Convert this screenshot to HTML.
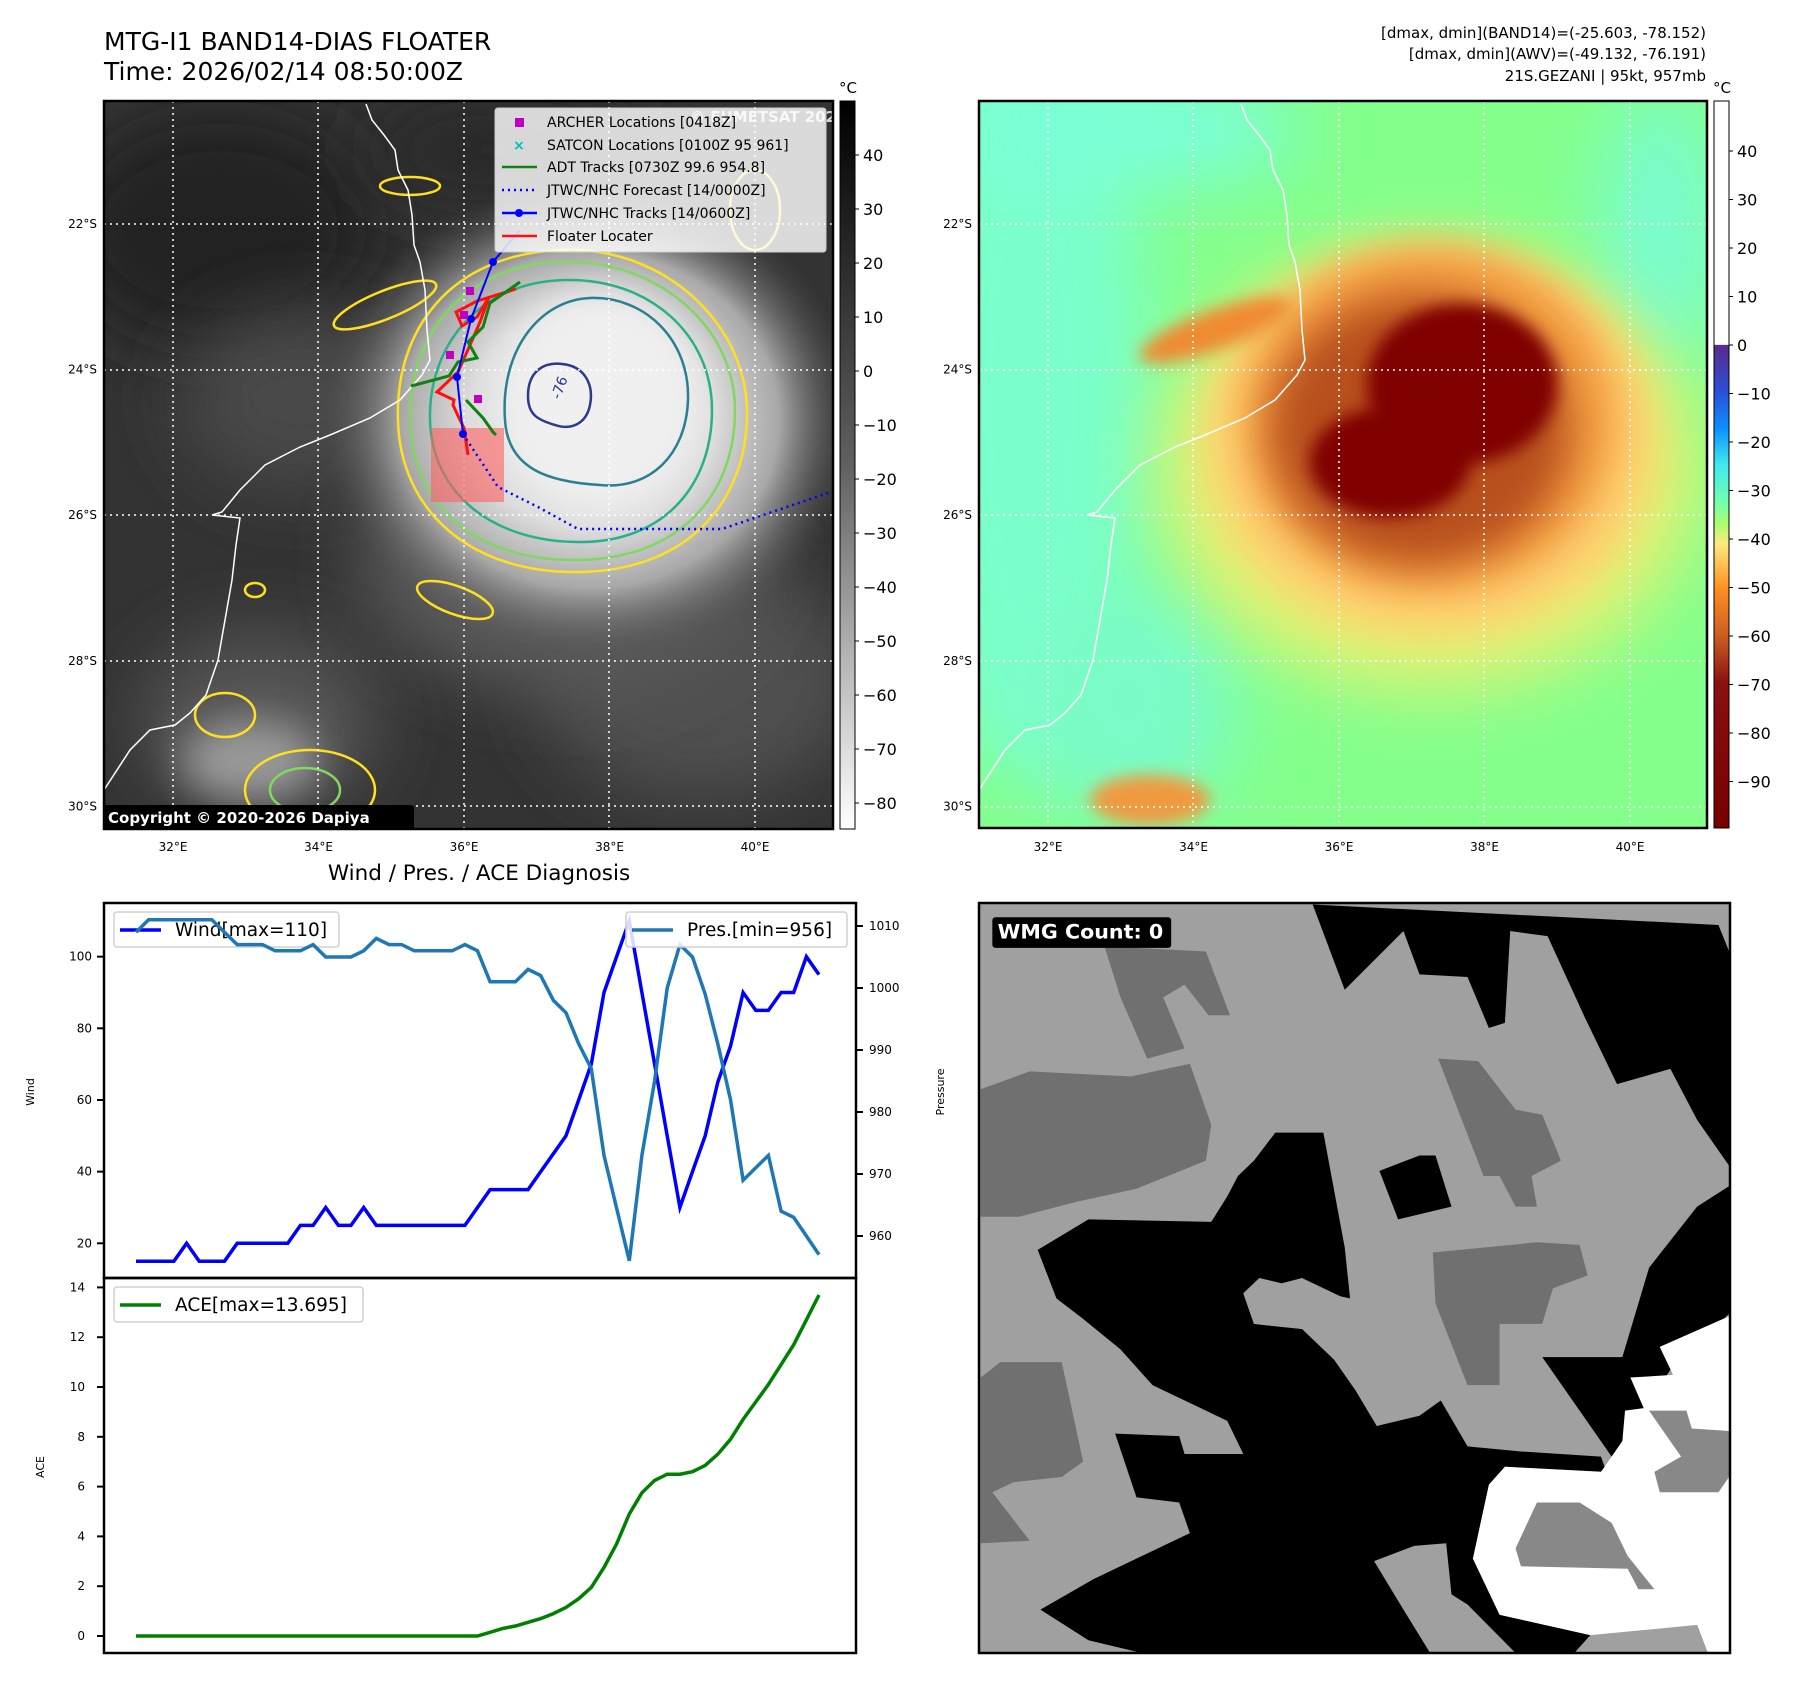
<!DOCTYPE html>
<html><head><meta charset="utf-8">
<style>
html,body{margin:0;padding:0;background:#fff;}
svg{display:block;font-family:"DejaVu Sans","Liberation Sans",sans-serif;}
</style></head>
<body>
<svg id="root" width="1797" height="1690" viewBox="0 0 1797 1690" xmlns="http://www.w3.org/2000/svg">
<defs>
  <filter id="b8" x="-50%" y="-50%" width="200%" height="200%"><feGaussianBlur stdDeviation="8"/></filter>
  <filter id="b20" x="-50%" y="-50%" width="200%" height="200%"><feGaussianBlur stdDeviation="20"/></filter>
  <filter id="b35" x="-50%" y="-50%" width="200%" height="200%"><feGaussianBlur stdDeviation="35"/></filter>
  <clipPath id="clipTL"><rect x="104" y="101" width="729" height="728"/></clipPath>
  <clipPath id="clipTR"><rect x="979" y="101" width="728" height="727"/></clipPath>
  <clipPath id="clipBR"><rect x="979" y="903" width="751" height="750"/></clipPath>
  <linearGradient id="grayBar" x1="0" y1="0" x2="0" y2="1">
    <stop offset="0" stop-color="#000"/><stop offset="0.5" stop-color="#606060"/><stop offset="1" stop-color="#fff"/>
  </linearGradient>
  <linearGradient id="colBar" x1="0" y1="0" x2="0" y2="1">
    <stop offset="0" stop-color="#fff"/><stop offset="0.335" stop-color="#fff"/>
    <stop offset="0.336" stop-color="#5b2b8c"/><stop offset="0.40" stop-color="#2a50d8"/>
    <stop offset="0.45" stop-color="#0a90ff"/><stop offset="0.50" stop-color="#40e8f0"/>
    <stop offset="0.55" stop-color="#70ffb0"/><stop offset="0.58" stop-color="#a8ff70"/>
    <stop offset="0.61" stop-color="#ffe880"/><stop offset="0.67" stop-color="#ff9020"/>
    <stop offset="0.74" stop-color="#c85a20"/><stop offset="0.80" stop-color="#8b1010"/>
    <stop offset="1" stop-color="#780000"/>
  </linearGradient>
  <radialGradient id="stormGray" cx="0.5" cy="0.5" r="0.5">
    <stop offset="0" stop-color="#f4f4f4"/><stop offset="0.45" stop-color="#dcdcdc"/>
    <stop offset="0.7" stop-color="#a8a8a8"/><stop offset="1" stop-color="#505050" stop-opacity="0"/>
  </radialGradient>
</defs>

<!-- titles -->
<text x="104" y="50" font-size="25">MTG-I1 BAND14-DIAS FLOATER</text>
<text x="104" y="80" font-size="25">Time: 2026/02/14 08:50:00Z</text>
<g font-size="15" text-anchor="end">
  <text x="1706" y="38">[dmax, dmin](BAND14)=(-25.603, -78.152)</text>
  <text x="1706" y="59">[dmax, dmin](AWV)=(-49.132, -76.191)</text>
  <text x="1706" y="81">21S.GEZANI | 95kt, 957mb</text>
</g>

<!-- ============ TOP-LEFT MAP ============ -->
<g clip-path="url(#clipTL)">
  <rect x="104" y="101" width="729" height="728" fill="#333"/>
  <ellipse cx="220" cy="230" rx="160" ry="120" fill="#242424" filter="url(#b35)"/>
  <ellipse cx="500" cy="150" rx="140" ry="60" fill="#2a2a2a" filter="url(#b35)"/>
  <ellipse cx="300" cy="400" rx="120" ry="90" fill="#484848" filter="url(#b35)"/>
  <ellipse cx="700" cy="680" rx="160" ry="120" fill="#505050" filter="url(#b35)"/>
  <ellipse cx="260" cy="720" rx="120" ry="90" fill="#555" filter="url(#b35)"/>
  <ellipse cx="560" cy="560" rx="200" ry="130" fill="#5a5a5a" filter="url(#b35)"/>
  <ellipse cx="590" cy="420" rx="270" ry="240" fill="url(#stormGray)"/>
  <ellipse cx="600" cy="400" rx="100" ry="110" fill="#f0f0f0" filter="url(#b20)"/>
  <ellipse cx="250" cy="760" rx="70" ry="40" fill="#9a9a9a" filter="url(#b20)"/>
  <!-- contours -->
  <g fill="none" stroke-width="2.5">
    <path d="M398,420 C395,330 450,255 560,250 C660,245 745,320 747,410 C748,500 690,570 580,572 C470,574 400,510 398,420 Z" stroke="#ffe020"/>
    <path d="M410,420 C408,340 460,265 560,262 C655,258 735,325 735,410 C735,495 680,558 580,560 C475,562 412,505 410,420 Z" stroke="#80d860"/>
    <path d="M430,420 C428,350 475,282 565,280 C650,278 712,335 712,410 C712,485 665,540 585,542 C495,544 432,495 430,420 Z" stroke="#28b088"/>
    <path d="M505,420 C500,350 540,300 590,298 C645,296 690,340 688,400 C686,455 650,490 600,485 C550,482 508,470 505,420 Z" stroke="#2a7f92"/>
    <path d="M528,396 C528,370 545,362 562,364 C585,366 594,385 590,405 C586,425 570,430 555,425 C538,420 528,415 528,396 Z" stroke="#2b3a8a"/>
    <ellipse cx="385" cy="305" rx="55" ry="14" transform="rotate(-22 385 305)" stroke="#ffe020"/>
    <ellipse cx="410" cy="186" rx="30" ry="9" stroke="#ffe020"/>
    <ellipse cx="455" cy="600" rx="40" ry="14" transform="rotate(20 455 600)" stroke="#ffe020"/>
    <ellipse cx="225" cy="715" rx="30" ry="22" stroke="#ffe020"/>
    <ellipse cx="310" cy="790" rx="65" ry="40" stroke="#ffe020"/>
    <ellipse cx="305" cy="790" rx="35" ry="22" stroke="#80d860"/>
    <ellipse cx="255" cy="590" rx="10" ry="7" stroke="#ffe020"/>
    <ellipse cx="755" cy="210" rx="25" ry="40" stroke="#ffe020"/>
  </g>
  <text x="560" y="400" font-size="14" fill="#2b3a8a" transform="rotate(-70 560 400)">-76</text>
  <!-- coastline -->
  <path d="M366,104 L372,120 L384,135 L395,150 L398,170 L408,190 L412,215 L414,245 L420,262 L425,290 L427,330 L430,360 L422,375 L400,400 L370,418 L330,435 L300,447 L265,465 L240,490 L222,512 L212,515 L240,518 L236,545 L232,580 L225,620 L218,660 L206,695 L190,713 L175,725 L150,730 L130,750 L104,790" fill="none" stroke="#fff" stroke-width="1.5"/>
  <!-- gridlines -->
  <g stroke="#fff" stroke-width="1.5" stroke-dasharray="2,4">
    <line x1="173" y1="101" x2="173" y2="829"/><line x1="318" y1="101" x2="318" y2="829"/><line x1="464" y1="101" x2="464" y2="829"/><line x1="609" y1="101" x2="609" y2="829"/><line x1="755" y1="101" x2="755" y2="829"/>
    <line x1="104" y1="224" x2="833" y2="224"/><line x1="104" y1="370" x2="833" y2="370"/><line x1="104" y1="515" x2="833" y2="515"/><line x1="104" y1="661" x2="833" y2="661"/><line x1="104" y1="806" x2="833" y2="806"/>
  </g>
  <!-- floater box -->
  <rect x="431" y="428" width="73" height="74" fill="#ff6060" opacity="0.6"/>
  <!-- tracks -->
  <polyline points="516,289 477,301 456,312 462,326 477,317 489,297 480,322 470,345 458,372 437,392 454,400 453,405 460,420 464,428 468,455" fill="none" stroke="#ff1010" stroke-width="3"/>
  <polyline points="411,386 449,376 458,362 477,358 468,342 483,327 490,303 520,282" fill="none" stroke="#108010" stroke-width="3"/>
  <polyline points="466,400 483,418 493,432 496,435" fill="none" stroke="#108010" stroke-width="3"/>
  <polyline points="520,230 493,262 471,319 457,377 463,434" fill="none" stroke="#0000ff" stroke-width="2"/>
  <g fill="#0000ff"><circle cx="493" cy="262" r="4"/><circle cx="471" cy="319" r="4"/><circle cx="457" cy="377" r="4"/><circle cx="463" cy="434" r="4"/></g>
  <polyline points="463,434 498,487 538,507 578,529 722,529 831,492" fill="none" stroke="#0000ff" stroke-width="2.5" stroke-dasharray="2,4"/>
  <g fill="#c000c0"><rect x="446" y="351" width="8" height="8"/><rect x="474" y="395" width="8" height="8"/><rect x="466" y="287" width="8" height="8"/><rect x="460" y="311" width="8" height="8"/></g>
  <!-- legend -->
  <g>
    <rect x="495" y="108" width="331" height="144" rx="3" fill="#fff" fill-opacity="0.82" stroke="#ccc"/>
    <text x="690" y="122" font-size="15" font-weight="bold" fill="#fff" fill-opacity="0.8">© EUMETSAT 2026</text>
    <rect x="515" y="118" width="9" height="9" fill="#c000c0"/>
    <text x="519" y="150" font-size="14" fill="#00c0c0" text-anchor="middle" font-weight="bold">×</text>
    <line x1="502" y1="167" x2="537" y2="167" stroke="#108010" stroke-width="2.5"/>
    <line x1="502" y1="190" x2="537" y2="190" stroke="#0000ff" stroke-width="2.5" stroke-dasharray="2,4"/>
    <line x1="502" y1="213" x2="537" y2="213" stroke="#0000ff" stroke-width="2.5"/><circle cx="519" cy="213" r="4" fill="#0000ff"/>
    <line x1="502" y1="236" x2="537" y2="236" stroke="#ff1010" stroke-width="2.5"/>
    <g font-size="14" fill="#000">
      <text x="547" y="127">ARCHER Locations [0418Z]</text>
      <text x="547" y="150">SATCON Locations [0100Z 95 961]</text>
      <text x="547" y="172">ADT Tracks [0730Z 99.6 954.8]</text>
      <text x="547" y="195">JTWC/NHC Forecast [14/0000Z]</text>
      <text x="547" y="218">JTWC/NHC Tracks [14/0600Z]</text>
      <text x="547" y="241">Floater Locater</text>
    </g>
  </g>
  <rect x="102" y="805" width="312" height="25" rx="3" fill="#000"/>
  <text x="108" y="823" font-size="15" font-weight="bold" fill="#fff">Copyright © 2020-2026 Dapiya</text>
</g>
<rect x="104" y="101" width="729" height="728" fill="none" stroke="#000" stroke-width="2.5"/>

<!-- TL colorbar -->
<g>
  <rect x="840" y="101" width="15" height="728" fill="url(#grayBar)" stroke="#000" stroke-width="1"/>
  <text x="848" y="93" font-size="15" text-anchor="middle">°C</text>
  <g id="tlbar" font-size="16"></g>
</g>

<!-- ============ TOP-RIGHT MAP ============ -->
<g clip-path="url(#clipTR)">
  <rect x="979" y="101" width="728" height="727" fill="#84ff8c"/>
  <ellipse cx="1030" cy="400" rx="120" ry="380" fill="#7affcc" filter="url(#b35)"/>
  <ellipse cx="1120" cy="130" rx="180" ry="60" fill="#7affd8" filter="url(#b35)"/>
  <ellipse cx="1130" cy="700" rx="110" ry="120" fill="#7afcc8" filter="url(#b35)"/>
  <ellipse cx="1660" cy="230" rx="60" ry="140" fill="#7afcd0" filter="url(#b35)"/>
  <ellipse cx="1430" cy="470" rx="270" ry="220" fill="#f0f070" filter="url(#b35)" opacity="0.9"/>
  <ellipse cx="1430" cy="440" rx="225" ry="195" fill="#ffd070" filter="url(#b20)"/>
  <ellipse cx="1430" cy="420" rx="185" ry="170" fill="#f29a40" filter="url(#b20)"/>
  <ellipse cx="1215" cy="330" rx="80" ry="20" transform="rotate(-20 1215 330)" fill="#f08a30" filter="url(#b8)"/>
  <ellipse cx="1150" cy="800" rx="60" ry="25" fill="#f09a40" filter="url(#b8)"/>
  <ellipse cx="1420" cy="430" rx="150" ry="135" fill="#b8501c" filter="url(#b20)"/>
  <ellipse cx="1462" cy="384" rx="95" ry="80" fill="#800000" filter="url(#b8)"/>
  <ellipse cx="1390" cy="462" rx="80" ry="55" fill="#800000" filter="url(#b8)"/>
  <path d="M1241,104 L1247,120 L1259,135 L1270,150 L1273,170 L1283,190 L1287,215 L1289,245 L1295,262 L1300,290 L1302,330 L1305,360 L1297,375 L1275,400 L1245,418 L1205,435 L1175,447 L1140,465 L1115,490 L1097,512 L1087,515 L1115,518 L1111,545 L1107,580 L1100,620 L1093,660 L1081,695 L1065,713 L1050,725 L1025,730 L1005,750 L979,790" fill="none" stroke="#fff" stroke-width="1.5"/>
  <g stroke="#fff" stroke-width="1.5" stroke-dasharray="2,4">
    <line x1="1048" y1="101" x2="1048" y2="828"/><line x1="1193" y1="101" x2="1193" y2="828"/><line x1="1339" y1="101" x2="1339" y2="828"/><line x1="1484" y1="101" x2="1484" y2="828"/><line x1="1630" y1="101" x2="1630" y2="828"/>
    <line x1="979" y1="224" x2="1707" y2="224"/><line x1="979" y1="370" x2="1707" y2="370"/><line x1="979" y1="515" x2="1707" y2="515"/><line x1="979" y1="661" x2="1707" y2="661"/><line x1="979" y1="807" x2="1707" y2="807"/>
  </g>
</g>
<rect x="979" y="101" width="728" height="727" fill="none" stroke="#000" stroke-width="2.5"/>
<g>
  <rect x="1714" y="101" width="15" height="727" fill="url(#colBar)" stroke="#000" stroke-width="1"/>
  <text x="1722" y="93" font-size="15" text-anchor="middle">°C</text>
  <g id="trbar" font-size="16"></g>
</g>

<!-- map tick labels -->
<g id="maplabels" font-size="12"></g>

<!-- ============ WIND / PRES / ACE ============ -->
<text x="479" y="880" font-size="21.5" text-anchor="middle">Wind / Pres. / ACE Diagnosis</text>
<g id="chart"></g>

<!-- ============ BOTTOM-RIGHT WMG PANEL ============ -->
<g clip-path="url(#clipBR)">
  <g transform="translate(979,903) scale(0.5339,0.5102) translate(-35,-45)">
    <rect x="0" y="0" width="1500" height="1600" fill="#a0a0a0"/>
    <g fill="#707070">
      <polygon points="38,410 130,375 320,385 430,360 470,480 460,550 330,605 220,630 110,660 38,660"/>
      <polygon points="270,130 460,140 505,265 465,265 420,205 380,230 420,330 350,350 300,230"/>
      <polygon points="895,350 970,355 1040,450 1090,460 1125,550 1070,580 1080,640 1040,640 1010,580 980,580"/>
      <polygon points="885,730 1080,710 1160,715 1175,775 1110,800 1090,870 1010,870 1010,990 950,990 890,830"/>
      <polygon points="38,975 75,945 190,945 230,1140 190,1170 100,1180 60,1200 130,1295 38,1300"/>
    </g>
    <g fill="#000">
      <polygon points="660,48 1420,88 1440,140 1440,560 1380,470 1330,370 1230,400 1170,270 1100,110 1030,100 1020,280 990,290 950,190 860,185 830,100 720,215"/>
      <polygon points="1440,600 1440,850 1330,960 1220,1130 1090,935 1240,935 1290,760 1380,640"/>
      <polygon points="590,495 680,495 720,720 730,820 640,800 560,780 530,810 550,870 640,880 700,940 740,1000 780,1070 860,1050 900,1020 950,1110 1050,1120 1200,1130 1210,1160 1020,1150 990,1190 1010,1440 1180,1480 1150,1515 340,1515 240,1490 150,1430 250,1370 430,1280 410,1220 330,1210 290,1085 410,1090 420,1125 530,1125 500,1060 440,1030 360,990 300,920 230,860 180,820 145,725 240,665 470,670 500,620 520,580 550,550"/>
      <polygon points="785,570 860,540 890,540 920,640 820,665"/>
      <polygon points="1380,1460 1440,1460 1440,1515 1400,1515"/>
    </g>
    <g fill="#fff">
      <polygon points="1310,915 1440,855 1440,1515 1400,1515 1380,1460 1180,1480 1010,1440 960,1330 990,1185 1020,1150 1200,1160 1240,1100 1245,1040 1280,1035 1255,975 1335,970"/>
    </g>
    <g fill="#888">
      <polygon points="1290,1040 1360,1040 1370,1075 1440,1080 1440,1170 1420,1200 1310,1200 1300,1160 1350,1130"/>
      <polygon points="1080,1220 1160,1220 1220,1260 1250,1325 1300,1390 1270,1390 1250,1350 1050,1345 1040,1310"/>
    </g>
    <g fill="#a0a0a0">
      <polygon points="775,1335 850,1305 910,1300 920,1400 950,1420 1040,1515 880,1515 830,1430"/>
      <polygon points="530,810 640,780 720,820 730,880 640,880 550,870"/>
    </g>
    <rect x="60" y="73" width="335" height="60" rx="6" fill="#000"/>
    <text x="70" y="115" font-size="38" font-weight="bold" fill="#fff" textLength="310" lengthAdjust="spacingAndGlyphs">WMG Count: 0</text>
  </g>
</g>
<rect x="979" y="903" width="751" height="750" fill="none" stroke="#000" stroke-width="2.5"/>
</svg>

<script>
// ---- chart data ----
const windValues = [15,15,15,15,20,15,15,15,20,20,20,20,20,25,25,30,25,25,30,25,25,25,25,25,25,25,25,30,35,35,35,35,40,45,50,60,70,90,100,110,90,70,50,30,40,50,65,75,90,85,85,90,90,100,95];
const presValues = [1009,1011,1011,1011,1011,1011,1011,1009,1007,1007,1007,1006,1006,1006,1007,1005,1005,1005,1006,1008,1007,1007,1006,1006,1006,1006,1007,1006,1001,1001,1001,1003,1002,998,996,991,987,973,964.5,956,973,985,1000,1007,1005,999,991,982,969,971,973,964,963,960,957];
const aceValues = [0,0,0,0,0,0,0,0,0,0,0,0,0,0,0,0,0,0,0,0,0,0,0,0,0,0,0,0,0.15,0.3,0.4,0.55,0.7,0.9,1.15,1.5,1.95,2.75,3.7,4.9,5.75,6.25,6.5,6.5,6.6,6.85,7.3,7.9,8.7,9.4,10.1,10.9,11.7,12.7,13.695];
const windTicks = [20,40,60,80,100];
const presTicks = [960,970,980,990,1000,1010];
const aceTicks = [0,2,4,6,8,10,12,14];
const grayBarTicks = [40,30,20,10,0,-10,-20,-30,-40,-50,-60,-70,-80];
const colorBarTicks = [40,30,20,10,0,-10,-20,-30,-40,-50,-60,-70,-80,-90];
const lonLabels = ["32°E","34°E","36°E","38°E","40°E"];
const latLabels = ["22°S","24°S","26°S","28°S","30°S"];

const NS = "http://www.w3.org/2000/svg";
function mk(tag, attrs, parent){ const e=document.createElementNS(NS,tag); for(const k in attrs) e.setAttribute(k,attrs[k]); parent.appendChild(e); return e; }
const fmt = v => (v<0 ? "\u2212"+Math.abs(v) : String(v));

const X0=136, X1=819;
const xAt = i => X0 + i*(X1-X0)/(windValues.length-1);
const yWind = w => 1243.3 - (w-20)*3.583;
const yPres = p => 926 + (1010-p)*6.2;
const yAce = a => 1636 - a*24.9;

const chart = document.getElementById('chart');
let ax1 = mk('rect',{x:104,y:903,width:752,height:375,fill:'none',stroke:'#000','stroke-width':2.5},chart);


let ax2 = mk('rect',{x:104,y:1278,width:752,height:375,fill:'none',stroke:'#000','stroke-width':2.5},chart);



windTicks.forEach(v=>{
  const y=yWind(v);
  const t=mk('line',{x1:97,y1:y,x2:104,y2:y,stroke:'#000','stroke-width':2},chart);
  
  
  const l=mk('text',{x:92,y:y+4,'font-size':12,'text-anchor':'end'},chart); l.textContent=v;
  
  
});
presTicks.forEach(v=>{
  const y=yPres(v);
  const t=mk('line',{x1:856,y1:y,x2:863,y2:y,stroke:'#000','stroke-width':2},chart);
  
  
  const l=mk('text',{x:869,y:y+4,'font-size':12},chart); l.textContent=v;
  
  
});
aceTicks.forEach(v=>{
  const y=yAce(v);
  const t=mk('line',{x1:97,y1:y,x2:104,y2:y,stroke:'#000','stroke-width':2},chart);
  
  
  const l=mk('text',{x:85,y:y+4,'font-size':12,'text-anchor':'end'},chart); l.textContent=v;
  
  
});
let yl=mk('text',{x:0,y:0,'font-size':11,'text-anchor':'middle',transform:'translate(34,1092) rotate(-90)'},chart); yl.textContent='Wind';


yl=mk('text',{x:0,y:0,'font-size':11,'text-anchor':'middle',transform:'translate(944,1092) rotate(-90)'},chart); yl.textContent='Pressure';


yl=mk('text',{x:0,y:0,'font-size':11,'text-anchor':'middle',transform:'translate(44,1467) rotate(-90)'},chart); yl.textContent='ACE';



function line(vals, yf, color, name){
  const pts = vals.map((v,i)=>xAt(i).toFixed(1)+","+yf(v).toFixed(1)).join(" ");
  const p = mk('polyline',{points:pts,fill:'none',stroke:color,'stroke-width':3.5,'stroke-linejoin':'miter'},chart);
  
  
}
function legend(x,y,w,color,label,name){
  const g=mk('g',{},chart);
  
  
  mk('rect',{x:x,y:y,width:w,height:35,rx:3,fill:'#fff','fill-opacity':0.85,stroke:'#d0d0d0','stroke-width':1.5},g);
  mk('line',{x1:x+6,y1:y+18,x2:x+47,y2:y+18,stroke:color,'stroke-width':3.5},g);
  const t=mk('text',{x:x+61,y:y+24,'font-size':18.5},g); t.textContent=label;
}
line(windValues, yWind, '#0000ff', 'wind-line');
legend(114,912,225,'#0000ff','Wind[max=110]','wind-legend');
line(presValues, yPres, '#1f77b4', 'pressure-line');
legend(626,912,221,'#1f77b4','Pres.[min=956]','pressure-legend');
line(aceValues, yAce, '#008000', 'ace-line');
legend(114,1287,249,'#008000','ACE[max=13.695]','ace-legend');

const tl=document.getElementById('tlbar');
grayBarTicks.forEach(v=>{
  const y=155+(40-v)*5.4;
  mk('line',{x1:855,y1:y,x2:859,y2:y,stroke:'#000'},tl);
  const t=mk('text',{x:863,y:y+6},tl); t.textContent=fmt(v);
  
  
});
const tr=document.getElementById('trbar');
colorBarTicks.forEach(v=>{
  const y=151+(40-v)*4.85;
  mk('line',{x1:1729,y1:y,x2:1733,y2:y,stroke:'#000'},tr);
  const t=mk('text',{x:1737,y:y+6},tr); t.textContent=fmt(v);
  
  
});
const ml=document.getElementById('maplabels');
lonLabels.forEach((s,i)=>{
  [173,1048].forEach(base=>{
    const t=mk('text',{x:base+i*145.5,y:851,'text-anchor':'middle'},ml); t.textContent=s;
    
    
  });
});
latLabels.forEach((s,i)=>{
  [97,972].forEach(base=>{
    const t=mk('text',{x:base,y:228+i*145.6,'text-anchor':'end'},ml); t.textContent=s;
    
    
  });
});
</script>
</body></html>
